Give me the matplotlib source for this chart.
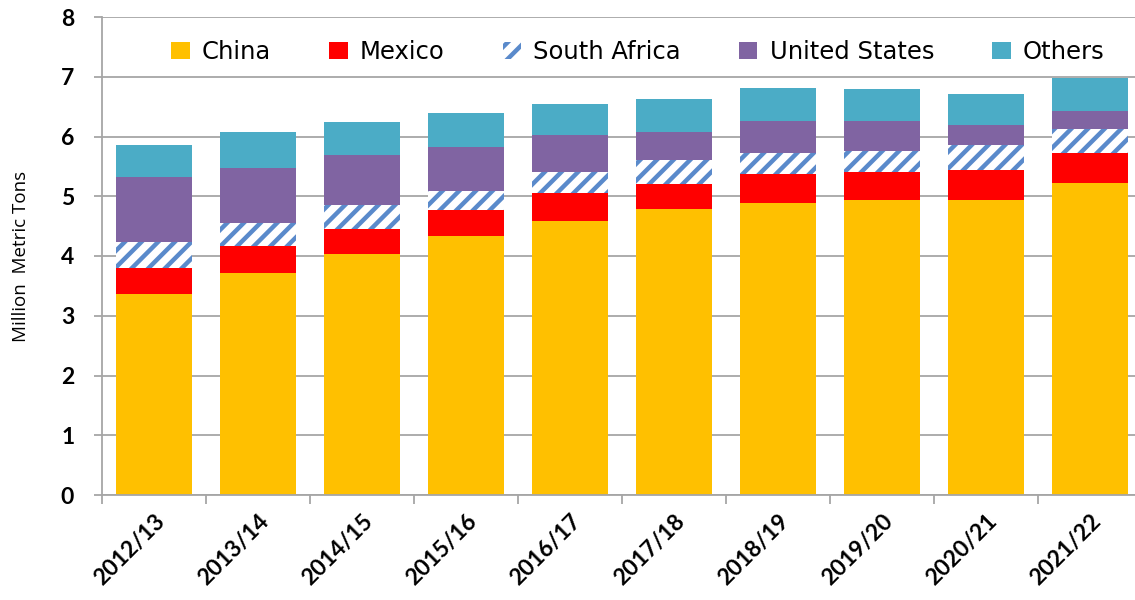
import numpy as np
import matplotlib.pyplot as plt
from matplotlib.patches import Patch

# values (million metric tons, stacked)
years = ['2012/13', '2013/14', '2014/15', '2015/16', '2016/17',
         '2017/18', '2018/19', '2019/20', '2020/21', '2021/22']
china = [3.36, 3.72, 4.03, 4.34, 4.59, 4.78, 4.89, 4.94, 4.94, 5.22]
mexico = [0.44, 0.44, 0.43, 0.43, 0.46, 0.43, 0.48, 0.47, 0.50, 0.50]
south_africa = [0.43, 0.39, 0.40, 0.32, 0.35, 0.39, 0.35, 0.35, 0.41, 0.40]
united_states = [1.10, 0.93, 0.83, 0.74, 0.63, 0.48, 0.54, 0.50, 0.34, 0.31]
others = [0.52, 0.60, 0.55, 0.56, 0.51, 0.55, 0.56, 0.53, 0.52, 0.55]

plt.rcParams['hatch.linewidth'] = 3.2
plt.rcParams['hatch.color'] = '#5A8ACB'

fig = plt.figure(figsize=(11.35, 6.0), dpi=100)
ax = fig.add_axes([102 / 1135, 105 / 600, 1040 / 1135, 478 / 600])

x = np.arange(len(years))
w = 0.74
bottom = np.zeros(len(years))
series = [
    ('China', china, dict(color='#FFC000')),
    ('Mexico', mexico, dict(color='#FF0000')),
    ('South Africa', south_africa, dict(facecolor='white', hatch='//', edgecolor='#5A8ACB')),
    ('United States', united_states, dict(color='#8064A2')),
    ('Others', others, dict(color='#4BACC6')),
]
handles = []
for name, vals, style in series:
    ax.bar(x, vals, w, bottom=bottom, zorder=2, linewidth=0, **style)
    bottom += np.array(vals)
    if name == 'South Africa':
        handles.append(Patch(facecolor='white', hatch='//', edgecolor='#5A8ACB', linewidth=0, label=name))
    else:
        handles.append(Patch(facecolor=style['color'], label=name))

ax.set_xlim(-0.5, len(years) - 0.5)
ax.set_ylim(0, 8)
ax.set_yticks(range(0, 9))
ax.grid(axis='y', color='#A6A6A6', linewidth=1.3, zorder=0)
ax.set_axisbelow(True)

for s in ['top', 'right']:
    ax.spines[s].set_visible(False)
for s in ['left', 'bottom']:
    ax.spines[s].set_color('#A6A6A6')
    ax.spines[s].set_linewidth(1.3)

ax.set_xticks(x)
ax.set_xticklabels(years, rotation=45, ha='right', rotation_mode='anchor',
                   fontsize=16.5, fontweight='bold', family='Lato')
ax.set_xticks(np.arange(-0.5, len(years)), minor=True)
ax.tick_params(axis='x', which='major', length=0, pad=11)
ax.tick_params(axis='x', which='minor', length=6.5, color='#A6A6A6', width=1.3)
ax.tick_params(axis='y', length=6, color='#A6A6A6', width=1.3, pad=14)
for lab in ax.get_yticklabels():
    lab.set_fontsize(16.5)
    lab.set_fontweight('bold')
    lab.set_family('Lato')

ax.set_ylabel('Million  Metric Tons', fontsize=13.5, family='Open Sans', labelpad=22)

leg = ax.legend(handles=handles, loc='center', bbox_to_anchor=(638 / 1135, 548 / 600),
                bbox_transform=fig.transFigure, ncol=5, frameon=True, fancybox=False,
                facecolor='white', edgecolor='none', framealpha=1,
                prop={'family': 'DejaVu Sans', 'size': 17.5},
                handlelength=0.75, handleheight=0.75, handletextpad=0.5,
                columnspacing=2.4, borderpad=0.3)
leg.set_zorder(5)

fig.savefig('out.png', dpi=100)
